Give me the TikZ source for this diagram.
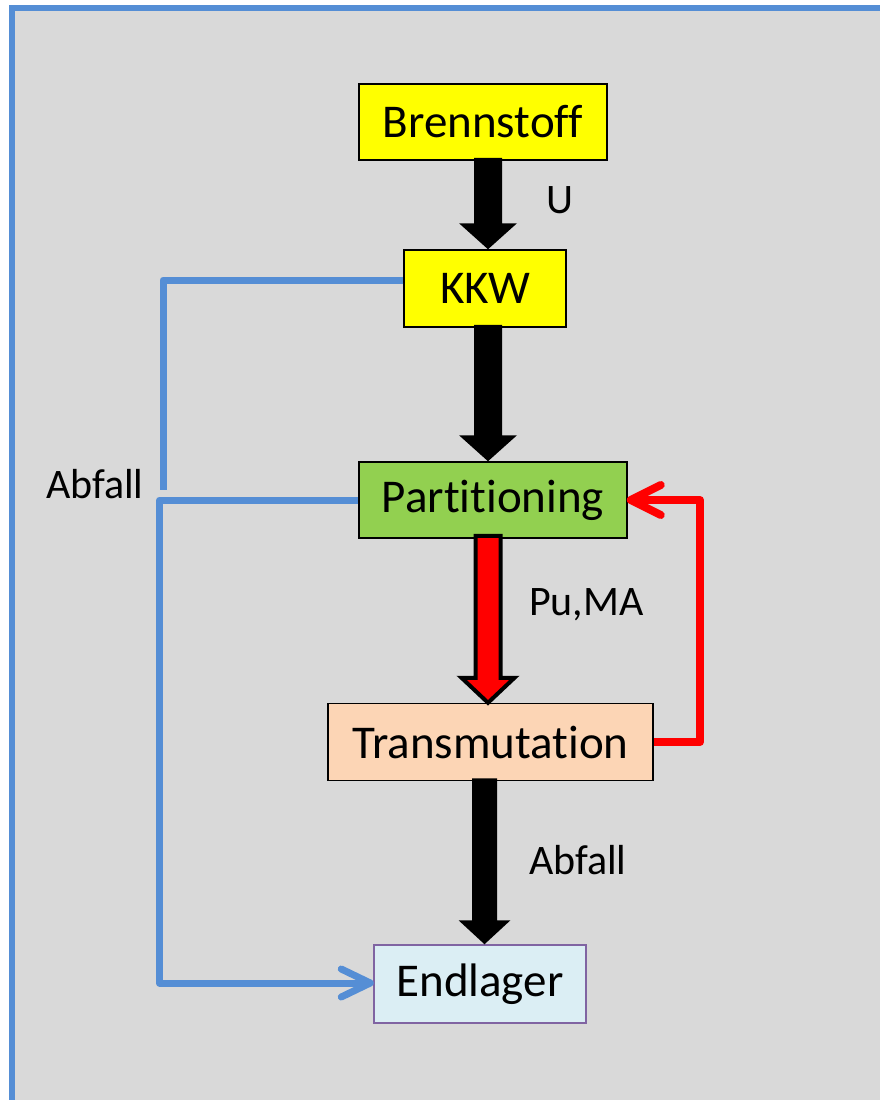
\documentclass[tikz,border=0pt]{standalone}
\usepackage{fontspec}
\setmainfont[Ligatures=NoCommon]{Carlito}
\usetikzlibrary{calc,arrows.meta}
\definecolor{bg}{HTML}{D9D9D9}
\definecolor{frameblue}{HTML}{558ED5}
\definecolor{linkblue}{HTML}{558ED5}
\definecolor{boxyellow}{HTML}{FFFF00}
\definecolor{boxgreen}{HTML}{92D050}
\definecolor{boxpeach}{HTML}{FCD5B5}
\definecolor{boxblue}{HTML}{DBEEF4}
\definecolor{boxpurple}{HTML}{8064A2}
\definecolor{redline}{HTML}{FF0000}
\tikzset{
  box/.style={draw=black, line width=1.5pt, inner sep=0pt, font=\fontsize{47}{56}\selectfont},
  lbl/.style={inner sep=0pt, anchor=west, font=\fontsize{42}{50}\selectfont},
  bluelink/.style={draw=linkblue, line width=7pt, line join=round},
  redlink/.style={draw=redline, line width=8pt, line join=round},
}
% #1 style, #2 x-coordinate, #3 from node, #4 to node, #5 shaft half width, #6 head half width, #7 head length
\newcommand\blockarrow[7]{%
  \path let \p1=(#2 |- #3.south), \p2=(#2 |- #4.north) in
    \pgfextra{}[#1] (\x1-#5,\y1+3pt) -- (\x1+#5,\y1+3pt) -- (\x1+#5,\y2+#7) -- (\x1+#6,\y2+#7)
    -- (\x1,\y2) -- (\x1-#6,\y2+#7) -- (\x1-#5,\y2+#7) -- cycle;}
\begin{document}
\begin{tikzpicture}[x=1pt,y=-1pt]
\useasboundingbox (0,0) rectangle (879,1100);
\fill[white] (0,0) rectangle (879,1100);
\filldraw[fill=bg, draw=frameblue, line width=6.5pt] (12,8) rectangle (900,1120);

\node[box, fill=boxyellow, minimum width=248pt, minimum height=76pt] (b) at (483,122) {Brennstoff};
\node[box, fill=boxyellow, minimum width=162pt, minimum height=77pt] (k) at (485,288.5) {KKW};
\node[box, fill=boxgreen, minimum width=268pt, minimum height=76pt] (p) at (493,500) {Partitioning};
\node[box, fill=boxpeach, minimum width=325pt, minimum height=77pt] (t) at (490.5,742) {Transmutation};
\node[box, draw=boxpurple, fill=boxblue, minimum width=212pt, minimum height=78pt] (e) at (480,984) {Endlager};

\coordinate (ax) at (488,0);
\coordinate (ax2) at (484.5,0);

\blockarrow{fill=black}{ax}{b}{k}{14pt}{29pt}{26pt}
\blockarrow{fill=black}{ax}{k}{p}{14pt}{29pt}{26pt}
\blockarrow{fill=redline, draw=black, line width=4pt, line join=miter}{ax}{p}{t}{12.5pt}{26.5pt}{25pt}
\blockarrow{fill=black}{ax2}{t}{e}{12.5pt}{26pt}{24pt}

\node[lbl] (lu) at (546,200) {U};
\node[lbl] (lpu) at (529,605) {Pu,MA};
\node[lbl] (la) at (529,860) {Abfall};
\node[lbl] (lb) at (46,484) {Abfall};

\coordinate (c1) at (163,280);
\coordinate (c2) at (163,490);
\coordinate (c3) at (159.5,500);
\coordinate (c4) at (159.5,983);
\coordinate (etip) at ($(e.west |- c4)+(-3,0)$);
\draw[bluelink] (k.west |- c1) -- (c1) -- (c2);
\draw[bluelink] (p.west |- c3) -- (c3) -- (c4) -- (etip);
\draw[bluelink, line cap=round] ($(etip)+(-29,-14)$) -- (etip) -- ($(etip)+(-29,14)$);

\coordinate (r1) at (700,742);
\coordinate (r2) at (700,500);
\coordinate (ptip) at ($(p.east |- r2)+(3,0)$);
\draw[redlink] (t.east |- r1) -- (r1) -- (r2) -- (ptip);
\draw[redlink, line cap=round] ($(ptip)+(30,-15)$) -- (ptip) -- ($(ptip)+(30,15)$);
\end{tikzpicture}
\end{document}
